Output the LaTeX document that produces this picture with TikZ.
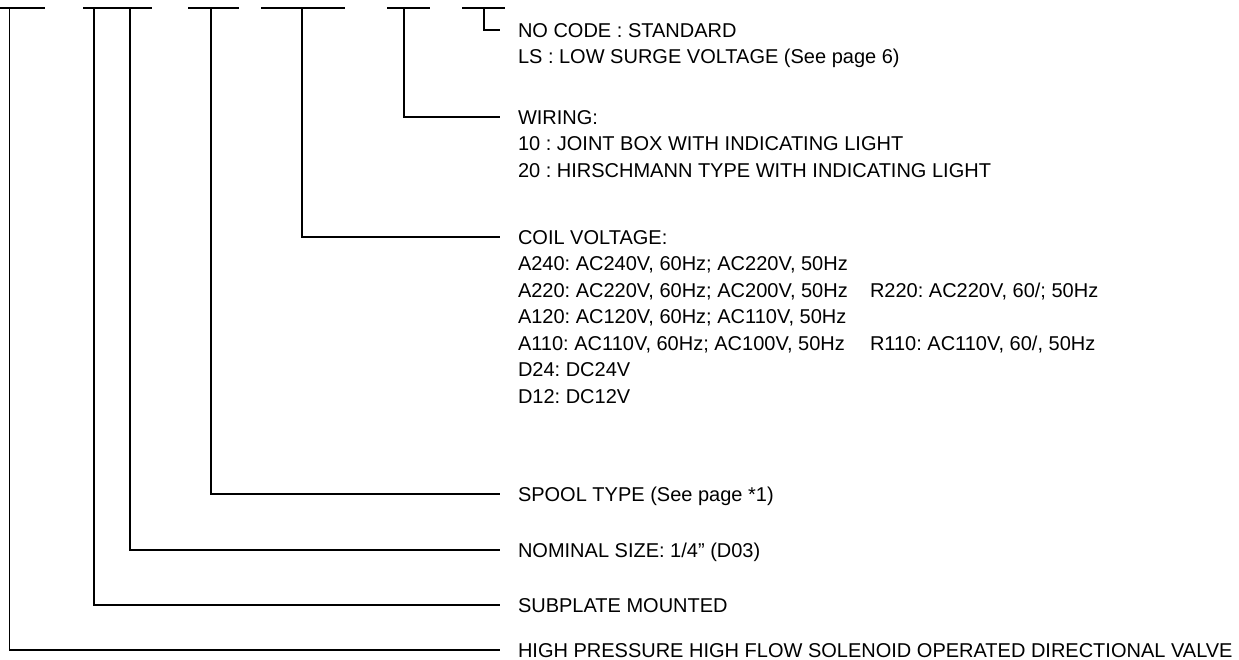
\documentclass[tikz,border=0pt]{standalone}
\usepackage{fontspec}
\setmainfont{Liberation Sans}
\frenchspacing
\tikzset{
    code bar/.style={
        line width=1.6pt,
        black
    },
    lead line/.style={
        line width=1.6pt,
        black
    },
    option text/.style={
        anchor=west,
        inner sep=0pt,
        outer xsep=18pt,
        text height=14.4pt,
        text depth=0pt,
        font=\fontsize{20}{24}\selectfont
    }
}

\begin{document}
\begin{tikzpicture}[x=1pt, y=-1pt]
    \useasboundingbox (0,0) rectangle (1239,659);
    \coordinate (T1) at (9.5, 8);
    \coordinate (T2) at (94, 8);
    \coordinate (T3) at (130, 8);
    \coordinate (T4) at (211, 8);
    \coordinate (T5) at (302, 8);
    \coordinate (T6) at (404, 8);
    \coordinate (T7) at (484, 8);
    % underlines of the model code
    \draw [code bar] (0, 8) -- (45, 8);
    \draw [code bar] (83, 8) -- (152, 8);
    \draw [code bar] (188, 8) -- (239, 8);
    \draw [code bar] (261, 8) -- (345, 8);
    \draw [code bar] (387, 8) -- (430, 8);
    \draw [code bar] (462, 8) -- (505, 8);
    % option texts
    \node [option text] (nocode) at (500, 30) {NO CODE : STANDARD};
    \node [option text] (lowsurge) at (500, 56.5) {LS : LOW SURGE VOLTAGE (See page 6)};
    \node [option text] (wiring) at (500, 117) {WIRING:};
    \node [option text] (wire10) at (500, 143.5) {10 : JOINT BOX WITH INDICATING LIGHT};
    \node [option text] (wire20) at (500, 170) {20 : HIRSCHMANN TYPE WITH INDICATING LIGHT};
    \node [option text] (coil) at (500, 237) {COIL VOLTAGE:};
    \node [option text] (a240) at (500, 263.5) {A240: AC240V, 60Hz; AC220V, 50Hz};
    \node [option text] (a220) at (500, 290) {A220: AC220V, 60Hz; AC200V, 50Hz};
    \node [option text] (r220) at (852, 290) {R220: AC220V, 60/; 50Hz};
    \node [option text] (a120) at (500, 316.5) {A120: AC120V, 60Hz; AC110V, 50Hz};
    \node [option text] (a110) at (500, 343) {A110: AC110V, 60Hz; AC100V, 50Hz};
    \node [option text] (r110) at (852, 343) {R110: AC110V, 60/, 50Hz};
    \node [option text] (d24) at (500, 369.5) {D24: DC24V};
    \node [option text] (d12) at (500, 396) {D12: DC12V};
    \node [option text] (spool) at (500, 494) {SPOOL TYPE (See page *1)};
    \node [option text] (size) at (500, 550) {NOMINAL SIZE: 1/4'' (D03)};
    \node [option text] (subplate) at (500, 605) {SUBPLATE MOUNTED};
    \node [option text] (valve) at (500, 650) {HIGH PRESSURE HIGH FLOW SOLENOID OPERATED DIRECTIONAL VALVE};
    % leaders
    \draw [lead line] (T1) |- (valve.west);
    \draw [lead line] (T2) |- (subplate.west);
    \draw [lead line] (T3) |- (size.west);
    \draw [lead line] (T4) |- (spool.west);
    \draw [lead line] (T5) |- (coil.west);
    \draw [lead line] (T6) |- (wiring.west);
    \draw [lead line] (T7) |- (nocode.west);
\end{tikzpicture}
\end{document}
